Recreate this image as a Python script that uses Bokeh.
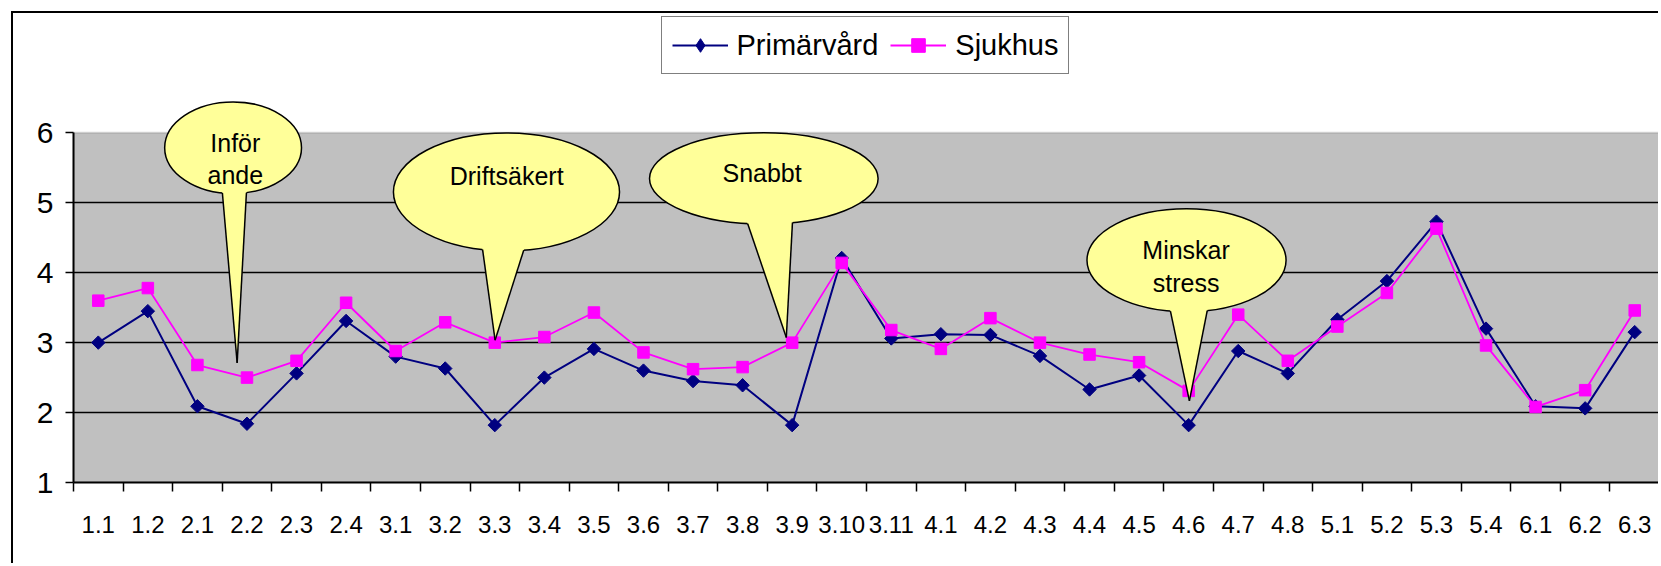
import numpy as np
from bokeh.plotting import figure
from bokeh.models import Range1d, FixedTicker, BoxAnnotation, Legend, LegendItem
from bokeh.embed import file_html
from bokeh.resources import INLINE
from bokeh.core.properties import value

# ---------------- data ----------------
categories = ["1.1", "1.2", "2.1", "2.2", "2.3", "2.4", "3.1", "3.2", "3.3", "3.4", "3.5",
              "3.6", "3.7", "3.8", "3.9", "3.10", "3.11", "4.1", "4.2", "4.3", "4.4", "4.5",
              "4.6", "4.7", "4.8", "5.1", "5.2", "5.3", "5.4", "6.1", "6.2", "6.3"]
primarvard = [3.00, 3.45, 2.09, 1.84, 2.56, 3.31, 2.80, 2.63, 1.82, 2.50, 2.91,
              2.60, 2.45, 2.39, 1.82, 4.21, 3.06, 3.12, 3.11, 2.81, 2.33, 2.53,
              1.82, 2.88, 2.56, 3.33, 3.88, 4.73, 3.20, 2.09, 2.06, 3.15]
sjukhus = [3.60, 3.78, 2.68, 2.50, 2.74, 3.57, 2.88, 3.29, 3.00, 3.08, 3.43,
           2.86, 2.62, 2.65, 3.00, 4.14, 3.18, 2.91, 3.35, 3.00, 2.83, 2.72,
           2.31, 3.40, 2.74, 3.23, 3.71, 4.63, 2.96, 2.08, 2.32, 3.46]
series_names = ["Primärvård", "Sjukhus"]
y_ticks = [1, 2, 3, 4, 5, 6]

# callout annotations (text lines)
callout_lines = ["Inför", "ande", "Driftsäkert", "Snabbt", "Minskar", "stress"]

# ---------------- layout / style ----------------
FONT = "Liberation Sans"
NAVY = "#000080"
MAGENTA = "#FF00FF"
YELLOW = "#FFFF99"

x = list(range(len(categories)))

p = figure(width=1647, height=552, output_backend="svg", toolbar_location=None, tools="",
           x_range=Range1d(-0.5, len(categories) - 0.5), y_range=Range1d(1, 7.706),
           min_border_left=60, min_border_right=1, min_border_top=0, min_border_bottom=83)
p.background_fill_color = "white"
p.border_fill_color = "white"
p.outline_line_color = None
p.styles = {"position": "relative", "left": "11px", "top": "11px",
            "border-left": "2px solid black", "border-top": "2px solid black"}

# grey plot area
p.add_layout(BoxAnnotation(bottom=1, top=6, fill_color="#C0C0C0", fill_alpha=1,
                           line_color="#808080", line_width=2, level="image"))

p.xgrid.visible = False
p.ygrid.ticker = FixedTicker(ticks=[2, 3, 4, 5])
p.ygrid.grid_line_color = "black"
p.ygrid.grid_line_width = 1.5

# y axis
ya = p.yaxis[0]
ya.ticker = FixedTicker(ticks=y_ticks)
ya.bounds = (1, 6)
ya.axis_line_width = 2
ya.axis_line_color = "black"
ya.major_tick_out = 8
ya.major_tick_in = 0
ya.major_tick_line_width = 1.5
ya.minor_tick_line_color = None
ya.major_label_text_font = FONT
ya.major_label_text_font_size = "30px"
ya.major_label_text_color = "black"
ya.major_label_standoff = 12

# x axis
xa = p.xaxis[0]
xa.ticker = FixedTicker(ticks=x, minor_ticks=[i - 0.5 for i in range(len(categories) + 1)])
xa.major_label_overrides = {i: c for i, c in enumerate(categories)}
xa.axis_line_width = 2
xa.axis_line_color = "black"
xa.major_tick_out = 0
xa.major_tick_in = 0
xa.major_tick_line_color = None
xa.minor_tick_out = 9
xa.minor_tick_in = 0
xa.minor_tick_line_color = "black"
xa.minor_tick_line_width = 1.5
xa.major_label_text_font = FONT
xa.major_label_text_font_size = "24px"
xa.major_label_text_color = "black"
xa.major_label_standoff = 24

# series
l1 = p.line(x, primarvard, line_color=NAVY, line_width=2)
s1 = p.scatter(x, primarvard, marker="square", angle=np.pi / 4, size=9.5,
               fill_color=NAVY, line_color=NAVY, line_width=1)
l2 = p.line(x, sjukhus, line_color=MAGENTA, line_width=1.8)
s2 = p.scatter(x, sjukhus, marker="square", size=11.5,
               fill_color=MAGENTA, line_color=MAGENTA, line_width=1)
# legend-only diamond (kept outside the visible range)
d1 = p.scatter([-100], [-100], marker="diamond", fill_color=NAVY, line_color=NAVY)

# callouts: ellipse centre, size (data units), tail base x's and tip
ell_x = [2.720, 8.236, 13.428, 21.957]
ell_y = [5.787, 5.155, 5.347, 4.178]
ell_w = [2.761, 4.562, 4.612, 4.017]
ell_h = [1.311, 1.687, 1.305, 1.473]
tail_bx = [(2.504, 2.989), (7.754, 8.584), (13.103, 14.006), (21.632, 22.375)]
tail_tip = [(2.802, 2.710), (8.006, 3.035), (13.882, 3.073), (22.015, 2.167)]

p.ellipse(x=ell_x, y=ell_y, width=ell_w, height=ell_h,
          fill_color=YELLOW, line_color="black", line_width=1.5)

fill_xs, fill_ys, side_xs, side_ys = [], [], [], []
for cx, cy, w, h, (bl, br), (tx, ty) in zip(ell_x, ell_y, ell_w, ell_h, tail_bx, tail_tip):
    pts = []
    for bx in (bl, br):
        t = max(0.0, 1 - ((bx - cx) / (w / 2)) ** 2)
        by = cy - (h / 2) * np.sqrt(t)
        pts.append((bx, by))
    ext = []
    for bx, by in pts:
        dx, dy = bx - tx, by - ty
        k = 0.12 / dy
        ext.append((bx + dx * k, by + dy * k))
    fill_xs.append([ext[0][0], ext[1][0], tx])
    fill_ys.append([ext[0][1], ext[1][1], ty])
    for bx, by in pts:
        side_xs.append([bx, tx])
        side_ys.append([by, ty])

p.patches(fill_xs, fill_ys, fill_color=YELLOW, line_color=None)
p.multi_line(side_xs, side_ys, line_color="black", line_width=1.5)

text_x = [2.765, 2.765, 8.240, 13.393, 21.948, 21.948]
text_y = [5.851, 5.400, 5.376, 5.423, 4.318, 3.855]
p.text(x=text_x, y=text_y, text=callout_lines, text_font=value(FONT), text_font_size="25px",
       text_align="center", text_baseline="middle", text_color="black")

legend = Legend(items=[LegendItem(label=series_names[0], renderers=[l1, d1]),
                       LegendItem(label=series_names[1], renderers=[l2, s2])],
                location=(587.5, 408), orientation="horizontal",
                glyph_width=56, glyph_height=34, label_height=36, label_standoff=9,
                spacing=12, padding=10, margin=0,
                border_line_color="black", border_line_width=1.5,
                background_fill_color="white", background_fill_alpha=1,
                label_text_font=FONT, label_text_font_size="29px", label_text_color="black")
p.add_layout(legend)

open("out.html", "w").write(file_html(p, INLINE))
